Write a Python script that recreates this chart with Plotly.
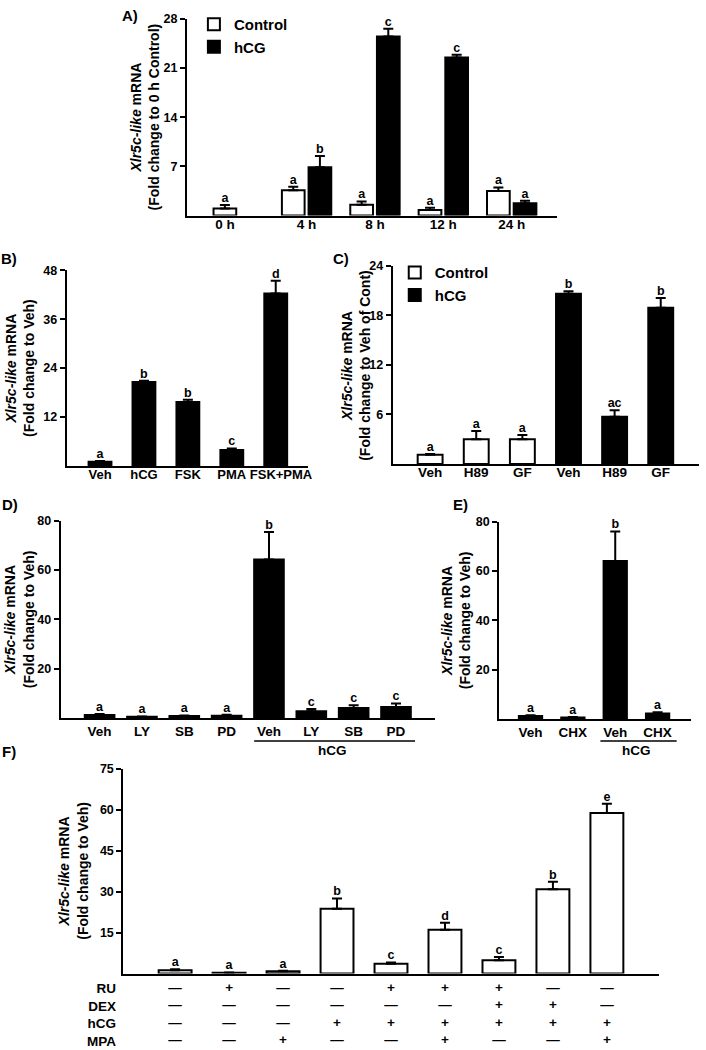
import plotly.graph_objects as go

W, H = 706, 1050
FONT = "Liberation Sans, Arial, sans-serif"

# ---------------- data ----------------
# Panel A
a_times = ["0 h", "4 h", "8 h", "12 h", "24 h"]
a_ctrl = [1.0, 3.6, 1.55, 0.8, 3.5]
a_ctrl_err = [0.5, 0.5, 0.45, 0.3, 0.5]
a_hcg = [None, 6.9, 25.5, 22.5, 1.75]
a_hcg_err = [None, 1.6, 1.1, 0.4, 0.35]
a_ctrl_sig = ["a", "a", "a", "a", "a"]
a_hcg_sig = ["", "b", "c", "c", "a"]
a_yticks = [7, 14, 21, 28]

# Panel B
b_cats = ["Veh", "hCG", "FSK", "PMA", "FSK+PMA"]
b_vals = [1.0, 20.6, 15.7, 3.9, 42.3]
b_err = [0.2, 0.3, 0.5, 0.4, 3.1]
b_sig = ["a", "b", "b", "c", "d"]
b_yticks = [12, 24, 36, 48]

# Panel C
c_cats = ["Veh", "H89", "GF"]
c_ctrl = [1.1, 3.0, 3.0]
c_ctrl_err = [0.1, 1.0, 0.5]
c_hcg = [20.6, 5.7, 18.9]
c_hcg_err = [0.3, 0.8, 1.2]
c_ctrl_sig = ["a", "a", "a"]
c_hcg_sig = ["b", "ac", "b"]
c_yticks = [6, 12, 18, 24]

# Panel D
d_cats = ["Veh", "LY", "SB", "PD"]
d_ctrl = [1.3, 0.6, 0.9, 1.0]
d_ctrl_err = [0.4, 0.1, 0.2, 0.4]
d_hcg = [64.2, 2.8, 4.1, 4.5]
d_hcg_err = [11.2, 0.9, 1.1, 1.5]
d_ctrl_sig = ["a", "a", "a", "a"]
d_hcg_sig = ["b", "c", "c", "c"]
de_yticks = [20, 40, 60, 80]

# Panel E
e_cats = ["Veh", "CHX"]
e_ctrl = [1.3, 0.7]
e_ctrl_err = [0.3, 0.2]
e_hcg = [64.0, 2.3]
e_hcg_err = [12.0, 0.5]
e_ctrl_sig = ["a", "a"]
e_hcg_sig = ["b", "a"]

# Panel F
f_vals = [1.2, 0.3, 0.8, 23.7, 3.6, 16.0, 4.85, 30.9, 58.8]
f_err = [0.4, 0.1, 0.2, 3.8, 0.4, 2.6, 1.2, 2.7, 3.4]
f_sig = ["a", "a", "a", "b", "c", "d", "c", "b", "e"]
f_rows = ["RU", "DEX", "hCG", "MPA"]
f_RU = [0, 1, 0, 0, 1, 1, 1, 0, 0]
f_DEX = [0, 0, 0, 0, 0, 0, 1, 1, 0]
f_hCG = [0, 0, 0, 1, 1, 1, 1, 1, 1]
f_MPA = [0, 0, 1, 0, 0, 1, 0, 0, 1]
f_yticks = [15, 30, 45, 60, 75]

YTITLE1 = "<i>Xlr5c-like</i> mRNA"

# ---------------- helpers ----------------
fig = go.Figure()


def bar(ax, xs, vals, errs, fill, name=None, legend=None, width=0.5):
    fig.add_trace(go.Bar(
        x=xs, y=vals, width=width, name=name,
        marker=dict(color=fill, line=dict(color="black", width=2)),
        error_y=dict(type="data", array=errs, arrayminus=[0] * len(errs),
                     symmetric=False, color="black", thickness=2, width=5),
        xaxis="x" + ax, yaxis="y" + ax,
        showlegend=name is not None, legend=legend,
    ))


def sig(ax, xs, vals, errs, labels):
    ys = [(v or 0) + (e or 0) for v, e in zip(vals, errs)]
    fig.add_trace(go.Scatter(
        x=xs, y=ys, text=labels, mode="text", textposition="top center",
        textfont=dict(size=12.5, color="black", family=FONT, weight="bold"),
        xaxis="x" + ax, yaxis="y" + ax, showlegend=False, cliponaxis=False,
        hoverinfo="skip",
    ))


# Panel A (axis "")
d_off = 0.195
a_cx = [i - d_off for i in range(len(a_times))]
a_hx = [i + d_off for i in range(len(a_times))]
bar("", a_cx, a_ctrl, a_ctrl_err, "white", "Control", "legend", 0.332)
bar("", a_hx, a_hcg, a_hcg_err, "black", "hCG", "legend", 0.332)
sig("", a_cx, a_ctrl, a_ctrl_err, a_ctrl_sig)
sig("", a_hx, a_hcg, a_hcg_err, a_hcg_sig)
a_tickvals = [i if a_hcg[i] is not None else a_cx[i] for i in range(len(a_times))]

# Panel B
b_x = list(range(len(b_cats)))
bar("2", b_x, b_vals, b_err, "black", width=0.52)
sig("2", b_x, b_vals, b_err, b_sig)
# the long last label sits slightly right of its bar, as in the original
b_tickvals = b_x[:-1] + [b_x[-1] + 0.12]

# Panel C
c_cx = list(range(len(c_cats)))
c_hx = [len(c_cats) + i for i in range(len(c_cats))]
bar("3", c_cx, c_ctrl, c_ctrl_err, "white", "Control", "legend2", 0.54)
bar("3", c_hx, c_hcg, c_hcg_err, "black", "hCG", "legend2", 0.54)
sig("3", c_cx, c_ctrl, c_ctrl_err, c_ctrl_sig)
sig("3", c_hx, c_hcg, c_hcg_err, c_hcg_sig)

# Panel D
d_cx = list(range(len(d_cats)))
d_hx = [len(d_cats) + i for i in range(len(d_cats))]
bar("4", d_cx + d_hx, d_ctrl + d_hcg, d_ctrl_err + d_hcg_err, "black", width=0.70)
sig("4", d_cx + d_hx, d_ctrl + d_hcg, d_ctrl_err + d_hcg_err, d_ctrl_sig + d_hcg_sig)

# Panel E
e_cx = list(range(len(e_cats)))
e_hx = [len(e_cats) + i for i in range(len(e_cats))]
bar("5", e_cx + e_hx, e_ctrl + e_hcg, e_ctrl_err + e_hcg_err, "black", width=0.55)
sig("5", e_cx + e_hx, e_ctrl + e_hcg, e_ctrl_err + e_hcg_err, e_ctrl_sig + e_hcg_sig)

# Panel F
f_x = list(range(len(f_vals)))
bar("6", f_x, f_vals, f_err, "white", width=0.61)
sig("6", f_x, f_vals, f_err, f_sig)
sign = {0: "\u2014", 1: "+"}
f_ticktext = ["<br>".join(sign[row[i]] for row in (f_RU, f_DEX, f_hCG, f_MPA))
              for i in range(len(f_vals))]

# ---------------- layout ----------------
def dom_x(x0, x1):
    return [x0 / W, x1 / W]


def dom_y(top, bottom):
    return [1 - bottom / H, 1 - top / H]


common_x = dict(showline=True, linewidth=2, linecolor="black", ticks="",
                showgrid=False, zeroline=False, tickangle=0)
common_y = dict(showline=True, linewidth=2, linecolor="black", ticks="outside",
                ticklen=5, tickwidth=2, tickcolor="black", showgrid=False,
                zeroline=False, tickfont=dict(size=12.5))

panels = {
    "": dict(xd=dom_x(188, 560), yd=dom_y(12, 210), xr=[-0.75, 4.66], yr=[0, 28],
             tv=a_tickvals, tt=a_times, yt=a_yticks, tx=146, ls=-5, fs=13.5,
             title=YTITLE1 + "<br>(Fold change to 0 h Control)"),
    "2": dict(xd=dom_x(67, 310), yd=dom_y(265, 462), xr=[-0.76, 4.74], yr=[0, 48],
              tv=b_tickvals, tt=b_cats, yt=b_yticks, tx=20, ls=-5, fs=13,
              title=YTITLE1 + "<br>(Fold change to Veh)"),
    "3": dict(xd=dom_x(395, 703), yd=dom_y(260.5, 460), xr=[-0.81, 5.83], yr=[0, 24],
              tv=c_cx + c_hx, tt=c_cats + c_cats, yt=c_yticks, tx=358, ls=-5, fs=13.5,
              title=YTITLE1 + "<br>(Fold change to Veh of Cont)"),
    "4": dict(xd=dom_x(61, 437), yd=dom_y(517, 716), xr=[-0.92, 7.91], yr=[0, 80],
              tv=d_cx + d_hx, tt=d_cats + d_cats, yt=de_yticks, tx=20, ls=0, fs=13.5,
              title=YTITLE1 + "<br>(Fold change to Veh)"),
    "5": dict(xd=dom_x(502, 695), yd=dom_y(518, 717), xr=[-0.74, 3.79], yr=[0, 80],
              tv=e_cx + e_hx, tt=e_cats + e_cats, yt=de_yticks, tx=458.5, ls=0, fs=13.5,
              title=YTITLE1 + "<br>(Fold change to Veh)"),
    "6": dict(xd=dom_x(124, 663), yd=dom_y(767, 973), xr=[-0.96, 8.97], yr=[0, 75],
              tv=f_x, tt=f_ticktext, yt=f_yticks, tx=74, ls=0, fs=13.5,
              title=YTITLE1 + "<br>(Fold change to Veh)"),
}

layout = dict(
    width=W, height=H, autosize=False,
    margin=dict(l=0, r=0, t=0, b=0),
    paper_bgcolor="white", plot_bgcolor="white",
    font=dict(family=FONT, size=13, color="black", weight="bold"),
    barmode="overlay",
    legend=dict(x=195 / W, y=1 - 1 / H, xanchor="left", yanchor="top",
                font=dict(size=15), bgcolor="rgba(0,0,0,0)", tracegroupgap=0),
    legend2=dict(x=397 / W, y=1 - 251 / H, xanchor="left", yanchor="top",
                 font=dict(size=15), bgcolor="rgba(0,0,0,0)", tracegroupgap=0),
)

for k, p in panels.items():
    xa = dict(common_x, domain=p["xd"], range=p["xr"], anchor="y" + k,
              tickmode="array", tickvals=p["tv"], ticktext=p["tt"],
              ticklabelstandoff=p["ls"], tickfont=dict(size=p["fs"]))
    ya = dict(common_y, domain=p["yd"], range=p["yr"], anchor="x" + k,
              tickmode="array", tickvals=p["yt"])
    layout["xaxis" + k] = xa
    layout["yaxis" + k] = ya

fig.update_layout(**layout)

# y-axis titles (two rotated lines, centred on each plot area)
for k, p in panels.items():
    fig.add_annotation(text=p["title"], textangle=-90, xref="paper", yref="paper",
                       x=p["tx"] / W, y=sum(p["yd"]) / 2, xanchor="center",
                       yanchor="middle", showarrow=False, font=dict(size=14))

# panel letters
for lbl, cx, cy in [("A)", 131, 9), ("B)", 9, 253), ("C)", 343, 253),
                    ("D)", 10, 501), ("E)", 463, 501), ("F)", 9, 749)]:
    fig.add_annotation(text=lbl, x=cx / W, y=1 - cy / H, xref="paper", yref="paper",
                       showarrow=False, font=dict(size=15), xanchor="center",
                       yanchor="middle")

# hCG underlines for D and E
for ax, hx in (("4", d_hx), ("5", e_hx)):
    fig.add_shape(type="line", xref="x" + ax, yref="paper",
                  x0=hx[0] - 0.35, x1=hx[-1] + 0.45, y0=1 - 739 / H, y1=1 - 739 / H,
                  line=dict(color="black", width=1.5))
    fig.add_annotation(text="hCG", xref="x" + ax, yref="paper",
                       x=(hx[0] + hx[-1]) / 2, y=1 - 748 / H, showarrow=False,
                       font=dict(size=13.5), yanchor="middle")

# F row labels
fig.add_annotation(text="<br>".join(f_rows), xref="paper", yref="paper",
                   x=119 / W, y=1 - 979 / H, xanchor="right", yanchor="top",
                   align="right", showarrow=False, font=dict(size=13.5))

fig.write_html("out.html", post_script="document.body.style.margin='0';",
               config={"displayModeBar": False})
